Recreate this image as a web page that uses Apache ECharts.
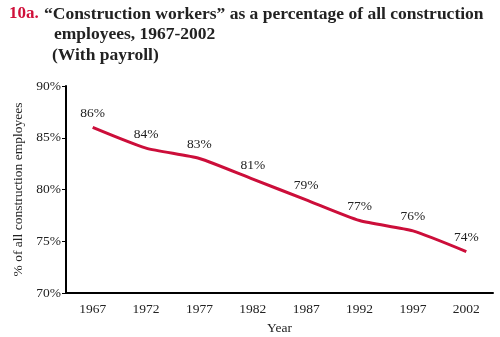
<!DOCTYPE html>
<html><head><meta charset="utf-8">
<script src="https://cdn.jsdelivr.net/npm/echarts@6/dist/echarts.min.js"></script>
<style>html,body{margin:0;padding:0;background:#fff}#c{width:500px;height:337px}</style>
</head><body><div id="c"></div>
<script>
const years = ['1967','1972','1977','1982','1987','1992','1997','2002'];
const shares = [86, 84, 83, 81, 79, 77, 76, 74];
const yTicks = [70, 75, 80, 85, 90];

const chart = echarts.init(document.getElementById('c'), null, {renderer:'canvas'});
const serif = '"Liberation Serif","DejaVu Serif",serif';
chart.setOption({
  animation:false,
  backgroundColor:'#fff',
  graphic:[
    {type:'text', left:9, top:5, style:{text:'10a.', font:'bold 17px '+serif, fill:'#d0103a'}},
    {type:'text', left:44, top:5, style:{text:'\u201cConstruction workers\u201d as a percentage of all construction', font:'bold 17.5px '+serif, fill:'#222'}},
    {type:'text', left:54, top:25, style:{text:'employees, 1967-2002', font:'bold 17.5px '+serif, fill:'#222'}},
    {type:'text', left:52, top:46, style:{text:'(With payroll)', font:'bold 17.5px '+serif, fill:'#222'}}
  ],
  grid:{left:66, right:7, top:86, bottom:44, outerBoundsMode:'none', containLabel:false},
  xAxis:{
    type:'category', data:years, boundaryGap:true,
    name:'Year', nameLocation:'middle', nameGap:28,
    nameTextStyle:{fontFamily:serif, fontSize:13.5, color:'#222'},
    axisLine:{lineStyle:{color:'#000', width:2}},
    axisTick:{inside:true, length:4, lineStyle:{color:'#000'}},
    axisLabel:{fontFamily:serif, fontSize:13.5, color:'#222', margin:9}
  },
  yAxis:{
    type:'value', min:70, max:90, interval:5,
    name:'% of all construction employees', nameLocation:'middle', nameGap:32,
    nameTextStyle:{fontFamily:serif, fontSize:13.5, color:'#222'},
    axisLine:{show:true, lineStyle:{color:'#000', width:2}},
    axisTick:{show:true, length:4, lineStyle:{color:'#000'}},
    splitLine:{show:false},
    axisLabel:{fontFamily:serif, fontSize:13.5, color:'#222', margin:5, formatter: v => yTicks.includes(v) ? v + '%' : ''}
  },
  series:[{
    type:'line', data:shares, smooth:0.2, symbol:'circle', symbolSize:0, showSymbol:true,
    lineStyle:{color:'#cc0e3a', width:3},
    labelLayout:{hideOverlap:false},
    label:{show:true, position:'top', distance:7, formatter: p => p.value + '%', fontFamily:serif, fontSize:13.5, color:'#222'}
  }]
});
</script></body></html>
